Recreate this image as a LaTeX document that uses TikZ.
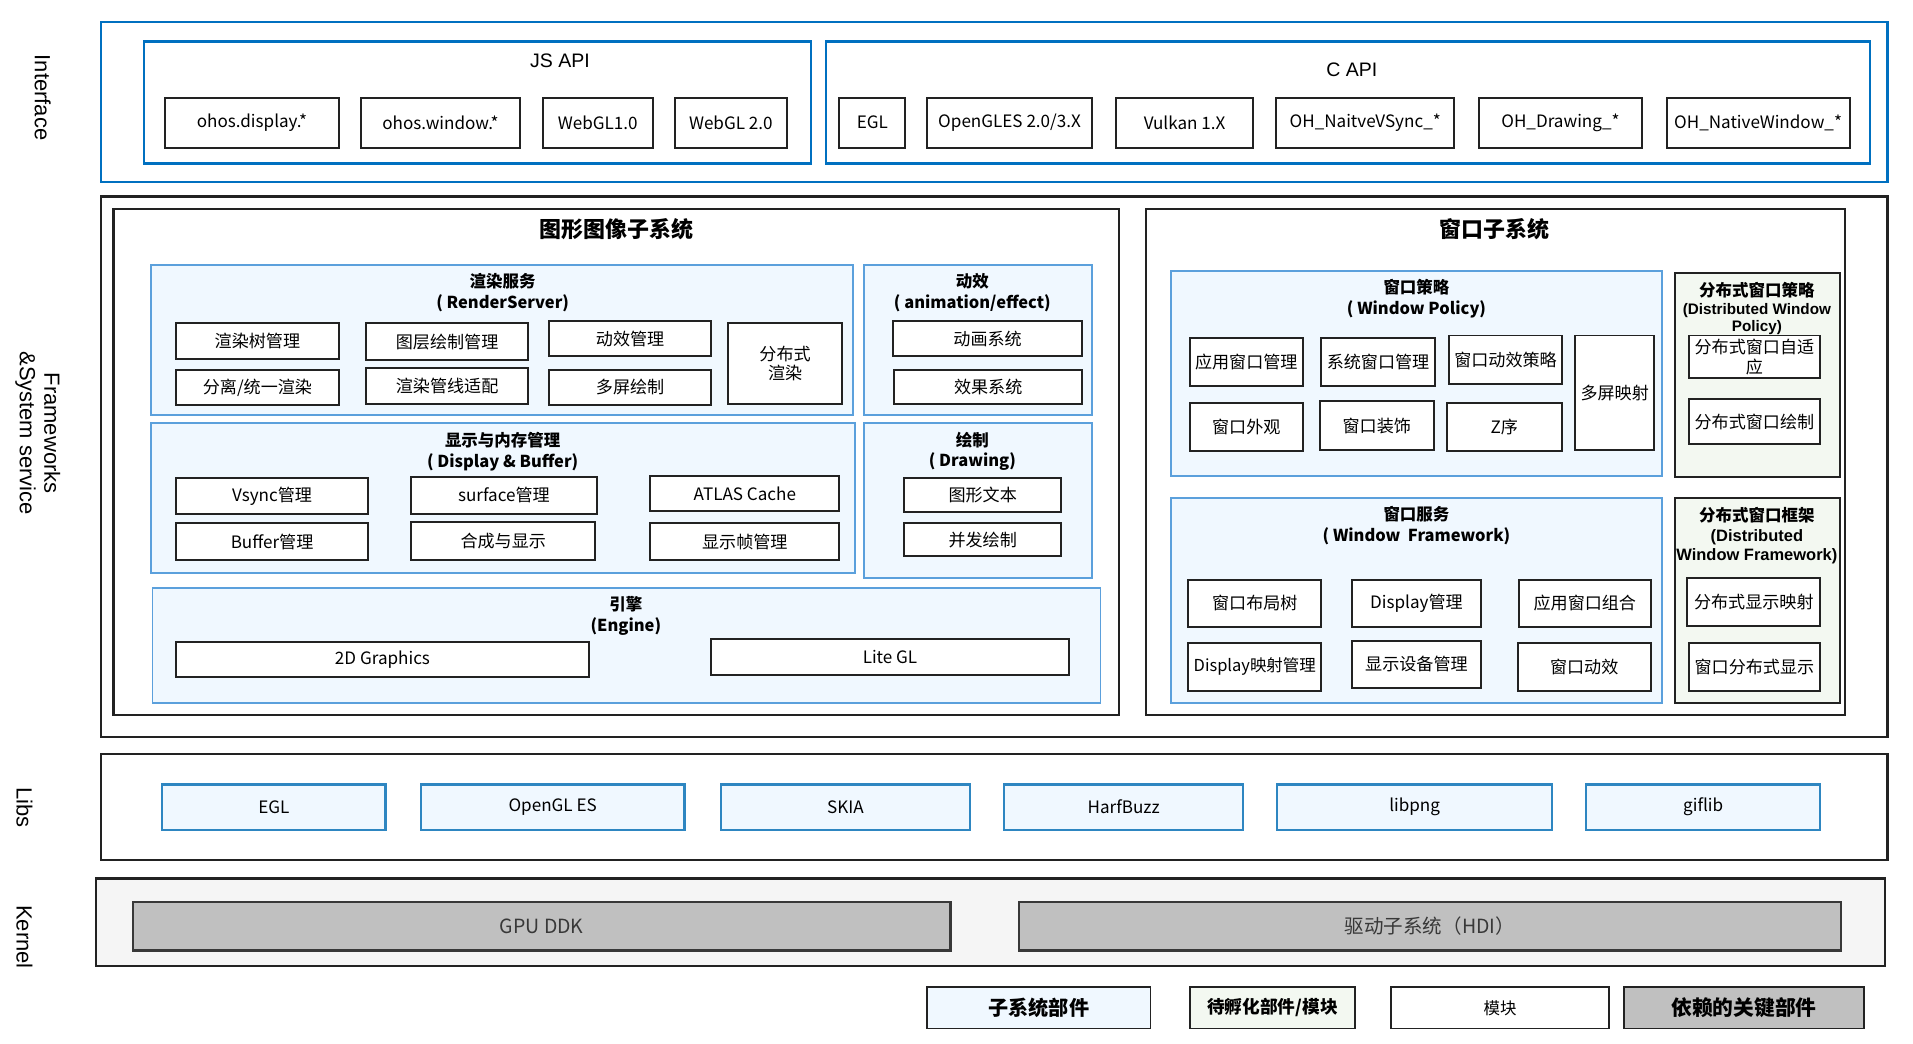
\documentclass[tikz,border=0pt]{standalone}
\usepackage{fontspec}
\setmainfont{Noto Sans CJK SC}
\newfontfamily\arialf{Liberation Sans}
\definecolor{apiblue}{HTML}{0070C0}
\definecolor{grpblue}{HTML}{5BA0DC}
\definecolor{grpfill}{HTML}{F0F8FF}
\definecolor{libblue}{HTML}{2E86C1}
\definecolor{dfill}{HTML}{F3F8F1}
\definecolor{kbg}{HTML}{F5F5F5}
\definecolor{kgray}{HTML}{C0C0C0}
\definecolor{dark}{HTML}{222222}
\newcommand\mybox[7][]{\node[#1, minimum width={(#5-#3)*1pt}, minimum height={(#6-#4)*1pt}] (#2) at ({(#3+#5)/2},{(#4+#6)/2}) {#7};}
\begin{document}
\begin{tikzpicture}[x=1pt,y=-1pt,
  every node/.style={inner sep=1pt, outer sep=0pt},
  mod/.style={draw=dark, line width=1.6pt, fill=white, align=center, font=\fontsize{14}{16}\selectfont},
  grp/.style={draw=grpblue, line width=1.6pt, fill=grpfill},
  dgrp/.style={draw=dark, line width=1.6pt, fill=dfill},
  apibox/.style={draw=apiblue, line width=1.8pt},
  outerbox/.style={draw=dark, line width=1.8pt},
  ttl/.style={align=center, font=\bfseries\fontsize{13.5}{17}\selectfont},
  bigttl/.style={font=\bfseries\fontsize{18}{20}\selectfont},
  libbox/.style={draw=libblue, line width=1.8pt, fill=grpfill, font=\fontsize{14}{16}\selectfont},
  kbox/.style={draw=dark!90, line width=1.8pt, fill=kgray, text=dark!90, font=\fontsize{16}{18}\selectfont},
  side/.style={rotate=-90, align=center, font=\arialf\fontsize{18}{20}\selectfont}
]
\useasboundingbox (0,0) rectangle (1568,855);
% side labels
\node[side] (lInterface) at (35,80) {Interface};
\node[side] (lFrame) at (31,355) {Frameworks\\\&System service};
\node[side] (lLibs) at (20,662) {Libs};
\node[side] (lKernel) at (20,768) {Kernel};

% Interface
\mybox[apibox]{ifc}{83}{18}{1547}{149}{}
\mybox[apibox]{jsapi}{118}{34}{665}{134}{}
\mybox[apibox]{capi}{677}{34}{1533}{134}{}
\node[font=\arialf\fontsize{16}{18}\selectfont] (jsT) at (459,50) {JS API};
\node[font=\arialf\fontsize{16}{18}\selectfont] (cT) at (1108,57) {C API};
\mybox[mod]{ohosd}{135}{80}{278}{121}{ohos.display.*}
\mybox[mod]{ohosw}{296}{80}{426}{121}{ohos.window.*}
\mybox[mod]{webglA}{445}{80}{535}{121}{WebGL1.0}
\mybox[mod]{webglB}{553}{80}{645}{121}{WebGL 2.0}
\mybox[mod]{cegl}{688}{80}{742}{121}{EGL}
\mybox[mod]{gles}{760}{80}{895}{121}{OpenGLES 2.0/3.X}
\mybox[mod]{vulkan}{915}{80}{1027}{121}{Vulkan 1.X}
\mybox[mod]{vsyncapi}{1046}{80}{1192}{121}{OH\_NaitveVSync\_*}
\mybox[mod]{ohdraw}{1212}{80}{1346}{121}{OH\_Drawing\_*}
\mybox[mod]{ohnw}{1366}{80}{1516}{121}{OH\_NativeWindow\_*}

% Frameworks
\mybox[outerbox]{fw}{83}{161}{1547}{604}{}
\mybox[outerbox]{gfx}{93}{171}{917}{586}{}
\mybox[outerbox]{win}{939}{171}{1512}{586}{}
\node[bigttl] (gfxT) at (505,188) {图形图像子系统};
\node[bigttl] (winT) at (1225,188) {窗口子系统};

% RenderServer
\mybox[grp]{rs}{124}{217}{699}{340}{}
\node[ttl] (rsT) at (412,240) {渲染服务\\( RenderServer)};
\mybox[mod]{rtree}{144}{265}{278}{294}{渲染树管理}
\mybox[mod]{rsplit}{144}{303}{278}{332}{分离/统一渲染}
\mybox[mod]{rlayer}{300}{265}{433}{295}{图层绘制管理}
\mybox[mod]{rpipe}{300}{302}{433}{331}{渲染管线适配}
\mybox[mod]{ranim}{450}{263}{583}{292}{动效管理}
\mybox[mod]{rmulti}{450}{303}{583}{332}{多屏绘制}
\mybox[mod]{rdist}{597}{265}{690}{331}{分布式\\渲染}

% animation
\mybox[grp]{an}{708}{217}{895}{340}{}
\node[ttl] (anT) at (797,240) {动效\\( animation/effect)};
\mybox[mod]{anisys}{732}{263}{887}{292}{动画系统}
\mybox[mod]{effsys}{733}{303}{887}{331}{效果系统}

% Display & Buffer
\mybox[grp]{db}{124}{347}{701}{470}{}
\node[ttl] (dbT) at (412,370) {显示与内存管理\\( Display \& Buffer)};
\mybox[mod]{vsync}{144}{392}{302}{421}{Vsync管理}
\mybox[mod]{buffer}{144}{429}{302}{459}{Buffer管理}
\mybox[mod]{surface}{337}{391}{489}{421}{surface管理}
\mybox[mod]{compose}{337}{428}{488}{459}{合成与显示}
\mybox[mod]{atlas}{533}{390}{688}{419}{ATLAS Cache}
\mybox[mod]{frame}{533}{429}{688}{459}{显示帧管理}

% Drawing
\mybox[grp]{dr}{708}{347}{895}{474}{}
\node[ttl] (drT) at (797,370) {绘制\\( Drawing)};
\mybox[mod]{gtext}{741}{392}{870}{420}{图形文本}
\mybox[mod]{cdraw}{741}{429}{870}{456}{并发绘制}

% Engine
\mybox[grp]{en}{125}{482}{902}{576}{}
\node[ttl] (enT) at (513,505) {引擎\\(Engine)};
\mybox[mod]{gtwod}{144}{526}{483}{555}{2D Graphics}
\mybox[mod]{litegl}{583}{524}{876}{553}{Lite GL}

% Window Policy
\mybox[grp]{wp}{960}{222}{1362}{390}{}
\node[ttl] (wpT) at (1161,245) {窗口策略\\( Window Policy)};
\mybox[mod]{appwin}{975}{277}{1068}{316}{应用窗口管理}
\mybox[mod]{syswin}{1083}{277}{1176}{316}{系统窗口管理}
\mybox[mod]{winanimp}{1188}{275}{1280}{315}{窗口动效策略}
\mybox[mod]{multimap}{1291}{275}{1356}{369}{多屏映射}
\mybox[mod]{winlook}{975}{330}{1068}{370}{窗口外观}
\mybox[mod]{windeco}{1082}{329}{1175}{369}{窗口装饰}
\mybox[mod]{zorder}{1186}{330}{1280}{370}{Z序}

% Distributed Window Policy
\mybox[dgrp]{dwp}{1373}{224}{1508}{391}{}
\node[ttl, font=\bfseries\fontsize{12.5}{14.5}\selectfont] (dwpT) at (1440,253) {{\fontsize{13.5}{14.5}\selectfont 分布式窗口策略}\\{\arialf\bfseries (Distributed Window}\\{\arialf\bfseries Policy)}};
\mybox[mod]{distadapt}{1384}{275}{1492}{310}{\fontsize{14}{15}\selectfont 分布式窗口自适\\应}
\mybox[mod]{distdraw}{1384}{327}{1492}{364}{分布式窗口绘制}

% Window Framework
\mybox[grp]{wf}{960}{408}{1362}{576}{}
\node[ttl] (wfT) at (1161,431) {窗口服务\\( Window~~Framework)};
\mybox[mod]{layout}{974}{475}{1083}{514}{窗口布局树}
\mybox[mod]{dispmgr}{1108}{475}{1214}{514}{Display管理}
\mybox[mod]{appcomp}{1245}{475}{1353}{514}{应用窗口组合}
\mybox[mod, font=\fontsize{13.5}{16}\selectfont]{dispmap}{974}{527}{1083}{566}{Display映射管理}
\mybox[mod]{dispdev}{1108}{525}{1214}{564}{显示设备管理}
\mybox[mod]{winanimf}{1244}{527}{1353}{566}{窗口动效}

% Distributed Window Framework
\mybox[dgrp]{dwf}{1373}{408}{1508}{576}{}
\node[ttl, font=\bfseries\fontsize{13.5}{16}\selectfont] (dwfT) at (1440,439) {{\fontsize{13.5}{16}\selectfont 分布式窗口框架}\\{\arialf\bfseries (Distributed}\\{\arialf\bfseries Window Framework)}};
\mybox[mod]{distmap}{1383}{474}{1492}{513}{分布式显示映射}
\mybox[mod]{distshow}{1384}{527}{1492}{566}{窗口分布式显示}

% Libs
\mybox[outerbox]{libs}{83}{618}{1547}{705}{}
\mybox[libbox]{legl}{133}{643}{316}{680}{EGL}
\mybox[libbox]{lgles}{345}{643}{561}{680}{OpenGL ES}
\mybox[libbox]{lskia}{591}{643}{795}{680}{SKIA}
\mybox[libbox]{lharf}{823}{643}{1019}{680}{HarfBuzz}
\mybox[libbox]{lpng}{1047}{643}{1272}{680}{libpng}
\mybox[libbox]{lgif}{1300}{643}{1492}{680}{giflib}

% Kernel
\mybox[outerbox, fill=kbg]{kernel}{79}{720}{1545}{792}{}
\mybox[kbox]{gpuddk}{109}{739}{779}{779}{GPU DDK}
\mybox[kbox]{hdi}{835}{739}{1509}{779}{驱动子系统（HDI）}

% Legend
\mybox[mod, fill=grpfill, font=\bfseries\fontsize{16.5}{18}\selectfont]{lgA}{760}{809}{943}{843}{子系统部件}
\mybox[mod, fill=dfill, font=\bfseries\fontsize{14.5}{16}\selectfont]{lgB}{975}{809}{1111}{843}{待孵化部件/模块}
\mybox[mod, font=\fontsize{13.5}{16}\selectfont]{lgC}{1140}{809}{1319}{843}{模块}
\mybox[mod, fill=kgray, font=\bfseries\fontsize{17}{18}\selectfont]{lgD}{1331}{809}{1528}{843}{依赖的关键部件}
\end{tikzpicture}
\end{document}
